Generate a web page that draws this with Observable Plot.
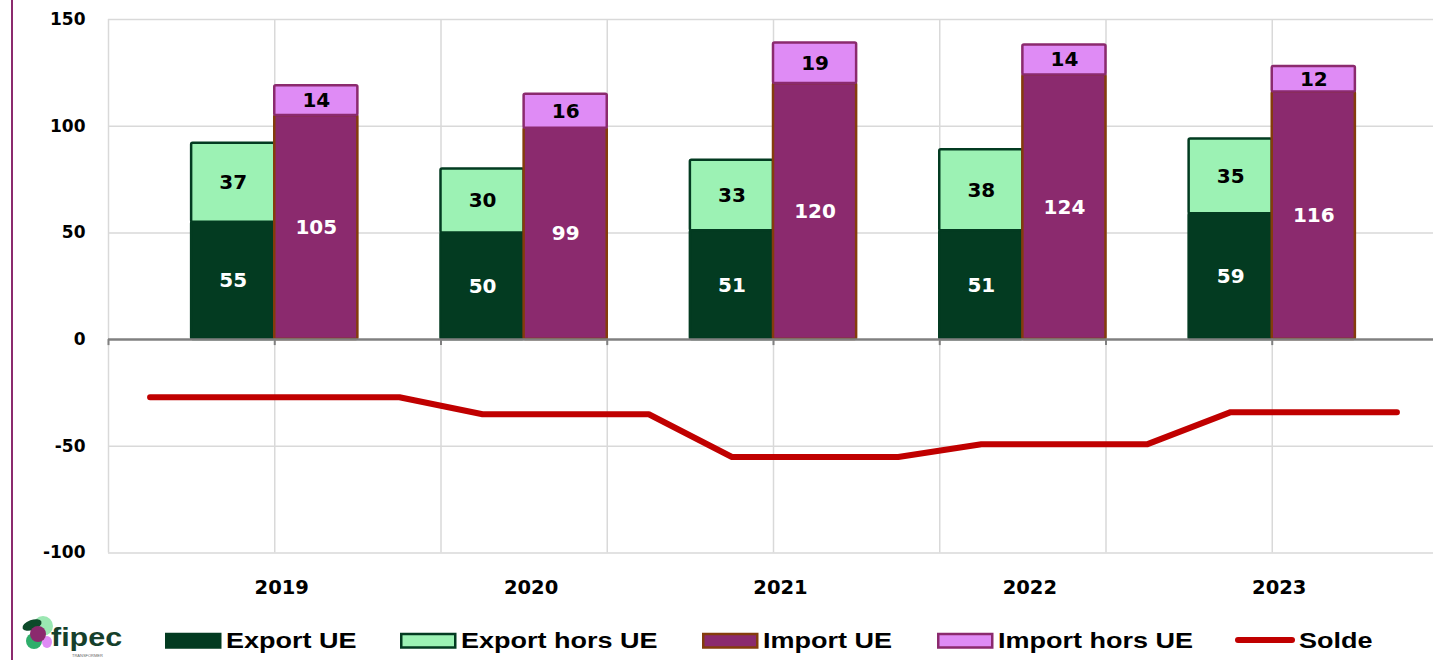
<!DOCTYPE html>
<html>
<head>
<meta charset="utf-8">
<script src="https://cdn.jsdelivr.net/npm/d3@7"></script>
<script src="https://cdn.jsdelivr.net/npm/@observablehq/plot@0.6"></script>
<style>
  html, body { margin: 0; padding: 0; background: #fff; overflow: hidden; width: 1433px; height: 660px; }
  #frame { position: relative; width: 1433px; height: 660px; overflow: hidden; }
  #edge { position: absolute; left: 11px; top: 0; width: 2px; height: 660px; background: #8b2a6e; }
  #chart { position: absolute; left: 0; top: 0; width: 1433px; height: 610px; overflow: hidden; }
  #legend { position: absolute; left: 0; top: 610px; }
</style>
</head>
<body>
<div id="frame">
  <div id="chart"></div>
  <svg id="legend" width="1433" height="50"></svg>
  <div id="edge"></div>
</div>
<script>
// Trade flows by year (values in the chart's unit)
const years = [2019, 2020, 2021, 2022, 2023];
const exportUE = [55, 50, 51, 51, 59];
const exportHorsUE = [37, 30, 33, 38, 35];
const importUE = [105, 99, 120, 124, 116];
const importHorsUE = [14, 16, 19, 14, 12];
const solde = [-27, -35, -55, -49, -34];
const yTicks = [-100, -50, 0, 50, 100, 150];

// Series styling
const series = {
  "Export UE":      {fill: "#033b21", stroke: "#033b21", text: "#fff", side: -1},
  "Export hors UE": {fill: "#9cf2b4", stroke: "#033b21", text: "#000", side: -1},
  "Import UE":      {fill: "#8b2a6e", stroke: "#843c0c", text: "#fff", side: 1},
  "Import hors UE": {fill: "#df8bf5", stroke: "#8b2a6e", text: "#000", side: 1}
};
const SOLDE_COLOR = "#c00000";
const BAR = 1 / 3;   // bar width, in years
const RAMP = 1 / 3;  // length of the balance line's transition between years

// Stacked segments: export column left of the year, import column right of it
const segments = years.flatMap((year, i) => [
  {year, name: "Export UE",      y1: 0,           y2: exportUE[i],                   value: exportUE[i]},
  {year, name: "Export hors UE", y1: exportUE[i], y2: exportUE[i] + exportHorsUE[i], value: exportHorsUE[i]},
  {year, name: "Import UE",      y1: 0,           y2: importUE[i],                   value: importUE[i]},
  {year, name: "Import hors UE", y1: importUE[i], y2: importUE[i] + importHorsUE[i], value: importHorsUE[i]}
]);
const left = d => series[d.name].side < 0 ? d.year - BAR : d.year;
const right = d => series[d.name].side < 0 ? d.year : d.year + BAR;

// Balance line: a plateau per year, joined by short ramps
const soldeLine = years.flatMap((year, i) => [
  {x: i === 0 ? year - 0.5 : year - 0.5 + RAMP, y: solde[i]},
  {x: year + 0.5, y: solde[i]}
]);

// Vertical grid every two thirds of a year
const gridXs = d3.range(8).map(i => 2018 + 1 / 3 + i * 2 / 3);

const barMarks = Object.entries(series).map(([name, s]) =>
  Plot.rect(segments.filter(d => d.name === name), {
    x1: left, x2: right, y1: "y1", y2: "y2",
    fill: s.fill, stroke: s.stroke, strokeWidth: 2.5, rx: 1.5
  })
);

const chart = Plot.plot({
  width: 1438,
  height: 610,
  marginLeft: 108,
  marginRight: 0,
  marginTop: 19,
  marginBottom: 57.5,
  x: {domain: [2018 + 1 / 3, 2023 + 2 / 3]},
  y: {domain: [-100, 150]},
  style: {fontFamily: "DejaVu Sans, Verdana, sans-serif", color: "#000", background: "transparent", maxWidth: "none"},
  marks: [
    Plot.gridY(yTicks.filter(v => v !== 0), {stroke: "#d9d9d9", strokeOpacity: 1, strokeWidth: 1.5}),
    Plot.gridX(gridXs, {stroke: "#d9d9d9", strokeOpacity: 1, strokeWidth: 1.5}),
    ...barMarks,
    Plot.ruleY([0], {stroke: "#808080", strokeWidth: 2.5}),
    Plot.ruleX(gridXs, {y1: 0, y2: 0, insetBottom: -6, stroke: "#808080", strokeWidth: 2}),
    Plot.text(segments, {
      x: d => d.year + series[d.name].side * BAR / 2,
      y: d => (d.y1 + d.y2) / 2,
      text: d => String(d.value),
      fill: d => series[d.name].text,
      fontSize: 20, fontWeight: "bold"
    }),
    Plot.line(soldeLine, {x: "x", y: "y", stroke: SOLDE_COLOR, strokeWidth: 6, strokeLinecap: "round", strokeLinejoin: "round"}),
    Plot.axisY({ticks: yTicks, tickSize: 0, tickPadding: 23, tickFormat: d => String(d), fontSize: 17, fontWeight: "bold", label: null}),
    Plot.axisX({ticks: years, tickSize: 0, tickPadding: 27, tickFormat: d => String(d), fontSize: 19.5, fontWeight: "bold", dx: 7, label: null})
  ]
});
document.getElementById("chart").appendChild(chart);

// Legend row with the fipec logo
const legend = d3.select("#legend");
const logo = legend.append("g");
logo.append("circle").attr("cx", 43).attr("cy", 16).attr("r", 10).attr("fill", "#9be7b2");
logo.append("circle").attr("cx", 34).attr("cy", 31).attr("r", 8).attr("fill", "#2fae6b");
logo.append("ellipse").attr("cx", 32).attr("cy", 15).attr("rx", 10).attr("ry", 5)
  .attr("transform", "rotate(-20 32 15)").attr("fill", "#0d4a2a");
logo.append("ellipse").attr("cx", 47).attr("cy", 32).attr("rx", 5).attr("ry", 6).attr("fill", "#df8bf5");
logo.append("circle").attr("cx", 38).attr("cy", 24).attr("r", 8).attr("fill", "#8b2a6e");
logo.append("text").attr("transform", "translate(51,36) scale(1.22,1)")
  .attr("font-family", "Liberation Sans, Arial, sans-serif").attr("font-weight", "bold")
  .attr("font-size", 25).attr("fill", "#163f2b").text("fipec");
logo.append("text").attr("x", 72).attr("y", 47)
  .attr("font-family", "Liberation Sans, Arial, sans-serif").attr("font-size", 4)
  .attr("fill", "#666").text("TRANSFORMER");

const legendItems = [
  {label: "Export UE", kind: "rect", ...series["Export UE"]},
  {label: "Export hors UE", kind: "rect", ...series["Export hors UE"]},
  {label: "Import UE", kind: "rect", ...series["Import UE"]},
  {label: "Import hors UE", kind: "rect", ...series["Import hors UE"]},
  {label: "Solde", kind: "line", stroke: SOLDE_COLOR}
];
const legendLeft = [165, 400, 702, 937, 1235];
legendItems.forEach((item, i) => {
  const g = legend.append("g").attr("transform", `translate(${legendLeft[i]},0)`);
  if (item.kind === "rect") {
    g.append("rect").attr("x", 1.25).attr("y", 24).attr("width", 54).attr("height", 13.5)
      .attr("fill", item.fill).attr("stroke", item.stroke).attr("stroke-width", 2.5);
  } else {
    g.append("line").attr("x1", 3).attr("x2", 57).attr("y1", 30).attr("y2", 30)
      .attr("stroke", item.stroke).attr("stroke-width", 6).attr("stroke-linecap", "round");
  }
  g.append("text").attr("transform", `translate(${item.kind === "rect" ? 61 : 64},37.5) scale(1.2,1)`)
    .attr("font-family", "Liberation Sans, Arial, sans-serif").attr("font-weight", "bold")
    .attr("font-size", 22.5).attr("fill", "#000").text(item.label);
});
</script>
</body>
</html>
